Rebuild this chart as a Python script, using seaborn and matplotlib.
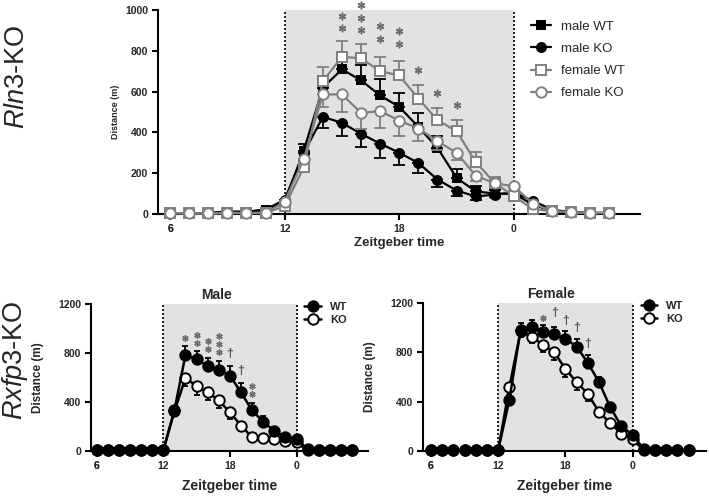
import numpy as np
import pandas as pd
import matplotlib
matplotlib.use("Agg")
import matplotlib.pyplot as plt
import seaborn as sns

sns.set_theme(style="ticks")
plt.rcParams["font.family"] = ["Liberation Sans", "DejaVu Sans"]
plt.rcParams["mathtext.fontset"] = "custom"
plt.rcParams["mathtext.rm"] = "Liberation Sans"
plt.rcParams["mathtext.it"] = "Liberation Sans:italic"

# -------------------------------
# DATA
# -------------------------------
zt = [6, 7, 8, 9, 10, 11, 12, 13, 14, 15, 16, 17, 18, 19, 20, 21, 22, 23, 0, 1, 2, 3, 4, 5]
tick_zt = [6, 12, 18, 0, 6]

# Rln3-KO
rln_male_wt = [5, 3, 5, 10, 12, 20, 55, 310, 620, 709, 655, 581, 525, 427, 324, 177, 111, 100, 100, 45, 15, 8, 5, 5]
rln_male_wt_err = [3, 3, 3, 5, 5, 8, 10, 35, 55, 50, 75, 80, 70, 70, 60, 45, 25, 20, 10, 8, 5, 3, 3, 3]
rln_male_ko = [5, 3, 5, 12, 10, 22, 70, 300, 476, 447, 393, 345, 300, 250, 169, 115, 86, 95, 105, 65, 20, 10, 5, 5]
rln_male_ko_err = [3, 3, 3, 5, 5, 8, 10, 40, 55, 65, 65, 70, 60, 50, 35, 25, 15, 10, 10, 8, 5, 3, 3, 3]
rln_female_wt = [5, 3, 3, 5, 5, 5, 38, 229, 651, 771, 763, 700, 679, 566, 460, 406, 255, 152, 87, 24, 13, 8, 5, 5]
rln_female_wt_err = [3, 3, 3, 3, 3, 3, 8, 25, 70, 75, 70, 70, 70, 65, 60, 55, 50, 30, 15, 8, 5, 3, 3, 3]
rln_female_ko = [5, 3, 3, 5, 5, 5, 60, 270, 586, 586, 496, 504, 458, 419, 357, 300, 188, 150, 136, 50, 15, 8, 5, 5]
rln_female_ko_err = [3, 3, 3, 3, 3, 3, 8, 30, 60, 85, 80, 80, 75, 60, 45, 35, 25, 20, 10, 8, 5, 3, 3, 3]

# Rxfp3-KO, male
rxm_wt = [5, 5, 5, 8, 5, 5, 5, 331, 784, 748, 693, 658, 616, 479, 331, 238, 164, 112, 96, 15, 5, 5, 5, 5]
rxm_wt_err = [3, 3, 3, 3, 3, 3, 3, 40, 75, 65, 70, 80, 75, 80, 60, 50, 30, 20, 15, 5, 3, 3, 3, 3]
rxm_ko = [5, 5, 5, 5, 5, 5, 5, 323, 597, 529, 479, 414, 315, 208, 112, 105, 95, 80, 70, 5, 5, 5, 5, 5]
rxm_ko_err = [3, 3, 3, 3, 3, 3, 3, 40, 65, 70, 65, 65, 50, 30, 15, 10, 10, 10, 10, 3, 3, 3, 3, 3]

# Rxfp3-KO, female
rxf_wt = [5, 5, 5, 5, 5, 5, 5, 415, 982, 1009, 968, 949, 909, 847, 715, 558, 356, 200, 132, 15, 5, 5, 5, 5]
rxf_wt_err = [3, 3, 3, 3, 3, 3, 3, 40, 55, 55, 55, 60, 60, 60, 60, 40, 30, 20, 15, 5, 3, 3, 3, 3]
rxf_ko = [5, 5, 5, 5, 5, 5, 5, 518, 971, 928, 860, 801, 666, 558, 464, 316, 227, 140, 94, 5, 5, 5, 5, 5]
rxf_ko_err = [3, 3, 3, 3, 3, 3, 3, 30, 50, 55, 55, 60, 65, 60, 55, 40, 25, 15, 10, 3, 3, 3, 3, 3]

# significance marks: (zt, symbol, count, lowest y)
rln_sig = [(15, "*", 2, 910), (16, "*", 3, 900), (17, "*", 2, 860), (18, "*", 2, 834),
           (19, "*", 1, 708), (20, "*", 1, 594), (21, "*", 1, 532)]
rxm_sig = [(14, "*", 1, 926), (15, "*", 2, 879), (16, "*", 2, 830), (17, "*", 3, 808),
           (18, "†", 1, 789), (19, "†", 1, 652), (20, "*", 2, 466)]
rxf_sig = [(16, "*", 1, 1079), (17, "†", 1, 1116), (18, "†", 1, 1057), (19, "†", 1, 998),
           (20, "†", 1, 868)]

GREY = "#808080"
SHADE = "#e2e2e2"
SIG = "#707070"
W, H = 709, 498


def pos(hours):
    # clock time -> continuous axis position (0..5 next day after 23)
    return [h if h >= 6 else h + 24 for h in hours]


x = pos(zt)


def px_axes(fig, left, top, right, bottom):
    return fig.add_axes([left / W, 1 - bottom / H, (right - left) / W, (bottom - top) / H])


def style_axes(ax, xlim, ylim, yticks, tick_fs, ylab_fs, xlab_fs, ylabelpad, xlabelpad):
    ax.axvspan(12, 24, color=SHADE, zorder=0, lw=0)
    for xv in (12, 24):
        ax.axvline(xv, color="black", ls=(0, (1.2, 1.2)), lw=1.2, zorder=1)
    ax.set_xlim(*xlim)
    ax.set_ylim(*ylim)
    ax.set_xticks(pos(tick_zt))
    ax.set_xticklabels([str(t) for t in tick_zt], fontweight="bold", fontsize=tick_fs)
    ax.set_yticks(yticks)
    ax.set_yticklabels([str(t) for t in yticks], fontweight="bold", fontsize=tick_fs)
    ax.set_xlabel("Zeitgeber time", fontweight="bold", fontsize=xlab_fs, labelpad=xlabelpad)
    ax.set_ylabel("Distance (m)", fontweight="bold", fontsize=ylab_fs, labelpad=ylabelpad)
    for s in ("top", "right"):
        ax.spines[s].set_visible(False)
    for s in ("left", "bottom"):
        ax.spines[s].set_linewidth(1.5)
        ax.spines[s].set_color("black")
    ax.tick_params(direction="out", length=4, width=1.5, color="black", pad=3)
    ax.set_facecolor("none")
    ax.grid(False)


def series(ax, y, err, up, label, color, marker, face, ms, lw, capsize, z):
    df = pd.DataFrame({"x": x, "y": y})
    lo = np.zeros(len(err)) if up else np.array(err)
    hi = np.array(err) if up else np.zeros(len(err))
    ax.errorbar(x, y, yerr=[lo, hi], fmt="none", ecolor=color, elinewidth=1.3,
                capsize=capsize, capthick=1.3, zorder=z, clip_on=False)
    sns.lineplot(data=df, x="x", y="y", ax=ax, color=color, lw=lw, marker=marker,
                 markersize=ms, markerfacecolor=face, markeredgecolor=color,
                 markeredgewidth=1.4, label=label, zorder=z + 0.5, clip_on=False)


def sig_marks(ax, marks, step, star_ms):
    for h, sym, n, y0 in marks:
        for i in range(n):
            yy = y0 + i * step
            if sym == "*":
                ax.plot([pos([h])[0]], [yy], marker=(6, 2, 0), ms=star_ms, mew=1.1,
                        color=SIG, ls="none", zorder=6, clip_on=False)
            else:
                ax.text(pos([h])[0], yy, sym, color="#555555", fontsize=9,
                        fontweight="bold", ha="center", va="center", zorder=6)


fig = plt.figure(figsize=(W / 100, H / 100), dpi=100)

# -------------------------------
# TOP: Rln3-KO
# -------------------------------
ax1 = px_axes(fig, 158, 10, 640, 214)
style_axes(ax1, (5.37, 30.6), (0, 1000), [0, 200, 400, 600, 800, 1000], 7.5, 6.5, 9.5, 4, 2)
series(ax1, rln_male_wt, rln_male_wt_err, True, "male WT", "black", "s", "black", 6, 1.6, 4, 3)
series(ax1, rln_male_ko, rln_male_ko_err, False, "male KO", "black", "o", "black", 6.5, 1.6, 4, 3)
series(ax1, rln_female_wt, rln_female_wt_err, True, "female WT", GREY, "s", "white", 7, 1.6, 4, 4)
series(ax1, rln_female_ko, rln_female_ko_err, False, "female KO", GREY, "o", "white", 7.5, 1.6, 4, 4)
sig_marks(ax1, rln_sig, 62, 5.5)
ax1.legend(loc="upper left", bbox_to_anchor=(0.76, 0.98), frameon=False, fontsize=9.5,
           borderpad=0, handlelength=1.5, handletextpad=0.8, labelspacing=0.75)

# -------------------------------
# BOTTOM LEFT: Rxfp3-KO male
# -------------------------------
ax2 = px_axes(fig, 91, 304, 368, 451)
style_axes(ax2, (5.49, 30.44), (0, 1200), [0, 400, 800, 1200], 7.5, 8.5, 10, 10, 6)
series(ax2, rxm_ko, rxm_ko_err, False, "KO", "black", "o", "white", 7.5, 1.8, 2.5, 3)
series(ax2, rxm_wt, rxm_wt_err, True, "WT", "black", "o", "black", 7.5, 1.8, 2.5, 4)
sig_marks(ax2, rxm_sig, 66, 4.5)
ax2.text(16.8, 1215, "Male", fontweight="bold", fontsize=10, ha="center", va="bottom")
h, l = ax2.get_legend_handles_labels()
ax2.legend(h[::-1], l[::-1], loc="upper left", bbox_to_anchor=(0.75, 1.05), frameon=False,
           prop={"weight": "bold", "size": 8}, borderpad=0, handlelength=1.5,
           handletextpad=0.8, labelspacing=0.25)

# -------------------------------
# BOTTOM RIGHT: Rxfp3-KO female
# -------------------------------
ax3 = px_axes(fig, 423, 303, 706, 451)
style_axes(ax3, (5.29, 30.55), (0, 1200), [0, 400, 800, 1200], 7.5, 8.5, 10, 10, 6)
series(ax3, rxf_ko, rxf_ko_err, False, "KO", "black", "o", "white", 7.5, 1.8, 2.5, 3)
series(ax3, rxf_wt, rxf_wt_err, True, "WT", "black", "o", "black", 7.5, 1.8, 2.5, 4)
sig_marks(ax3, rxf_sig, 66, 4.5)
ax3.text(16.7, 1215, "Female", fontweight="bold", fontsize=10, ha="center", va="bottom")
h, l = ax3.get_legend_handles_labels()
ax3.legend(h[::-1], l[::-1], loc="upper left", bbox_to_anchor=(0.75, 1.05), frameon=False,
           prop={"weight": "bold", "size": 8}, borderpad=0, handlelength=1.5,
           handletextpad=0.8, labelspacing=0.25)

# row labels
fig.text(17.5 / W, 1 - 77 / H, r"$\mathit{Rln3}$-KO", rotation=90, fontsize=19.5,
         ha="center", va="center")
fig.text(15 / W, 1 - 360 / H, r"$\mathit{Rxfp3}$-KO", rotation=90, fontsize=19.5,
         ha="center", va="center")

fig.savefig("out.png", dpi=100, facecolor="white")
